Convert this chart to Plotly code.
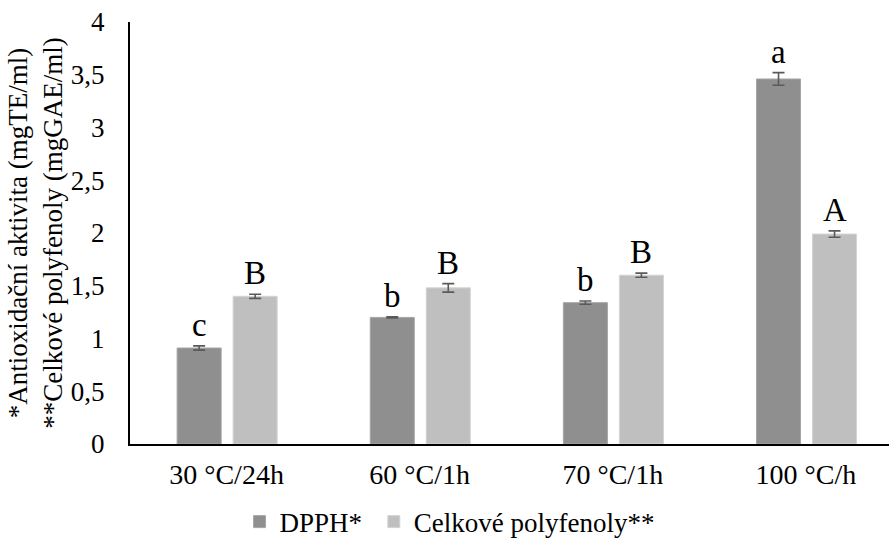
import plotly.graph_objects as go

categories = ["30 °C/24h", "60 °C/1h", "70 °C/1h", "100 °C/h"]

dpph = [0.91, 1.20, 1.34, 3.46]
dpph_err = [0.02, 0.005, 0.015, 0.06]
dpph_letters = ["c", "b", "b", "a"]

polyfenoly = [1.40, 1.48, 1.60, 1.99]
polyfenoly_err = [0.02, 0.04, 0.02, 0.03]
polyfenoly_letters = ["B", "B", "B", "A"]

y_ticks = [0, 0.5, 1, 1.5, 2, 2.5, 3, 3.5, 4]
y_tick_text = [str(v).replace(".", ",") for v in y_ticks]

FONT = "Liberation Serif, Times New Roman, serif"
BAR_W = 0.228
OFFSETS = (-0.256, 0.034)

fig = go.Figure()
fig.add_trace(go.Bar(
    name="DPPH*\u00a0", x=categories, y=dpph, width=BAR_W, offset=OFFSETS[0],
    marker=dict(color="#8f8f8f", line=dict(color="#a6a6a6", width=1)),
    error_y=dict(type="data", array=dpph_err, color="#5a5a5a", thickness=1.6, width=6),
))
fig.add_trace(go.Bar(
    name="Celkové polyfenoly**", x=categories, y=polyfenoly, width=BAR_W, offset=OFFSETS[1],
    marker=dict(color="#bfbfbf", line=dict(color="#d4d4d4", width=1)),
    error_y=dict(type="data", array=polyfenoly_err, color="#5a5a5a", thickness=1.6, width=6),
))

# significance letters above each bar
n = len(categories)
for series, errs, letters, off in [
    (dpph, dpph_err, dpph_letters, OFFSETS[0]),
    (polyfenoly, polyfenoly_err, polyfenoly_letters, OFFSETS[1]),
]:
    for i in range(n):
        fig.add_annotation(
            x=i + off + BAR_W / 2, y=series[i] + errs[i], xref="x", yref="y",
            text=letters[i], showarrow=False, yanchor="bottom", yshift=1,
            font=dict(family=FONT, size=33, color="black"),
        )

fig.update_layout(
    width=889, height=542,
    margin=dict(l=130, r=0, t=22, b=98, autoexpand=False),
    paper_bgcolor="white", plot_bgcolor="white",
    font=dict(family=FONT, size=27, color="black"),
    barmode="overlay",
    showlegend=True,
    legend=dict(orientation="h", x=0.421, xanchor="center", y=-0.185, yanchor="middle",
                font=dict(family=FONT, size=27, color="black"), itemwidth=30,
                traceorder="normal"),
)
fig.update_xaxes(
    type="category", range=[-0.5, 3.43],
    showline=True, linecolor="black", linewidth=2,
    showgrid=False, ticks="", ticklabelstandoff=4,
    tickfont=dict(family=FONT, size=28, color="black"),
)
fig.update_yaxes(
    range=[0, 4], tickvals=y_ticks, ticktext=y_tick_text,
    showline=True, linecolor="black", linewidth=2,
    showgrid=False, zeroline=False, ticks="", ticklabelstandoff=18,
    tickfont=dict(family=FONT, size=27, color="black"),
    title=dict(text="*Antioxidační aktivita (mgTE/ml)<br>**Celkové polyfenoly (mgGAE/ml)",
               font=dict(family=FONT, size=27, color="black"), standoff=0),
)

fig.write_html("out.html")
